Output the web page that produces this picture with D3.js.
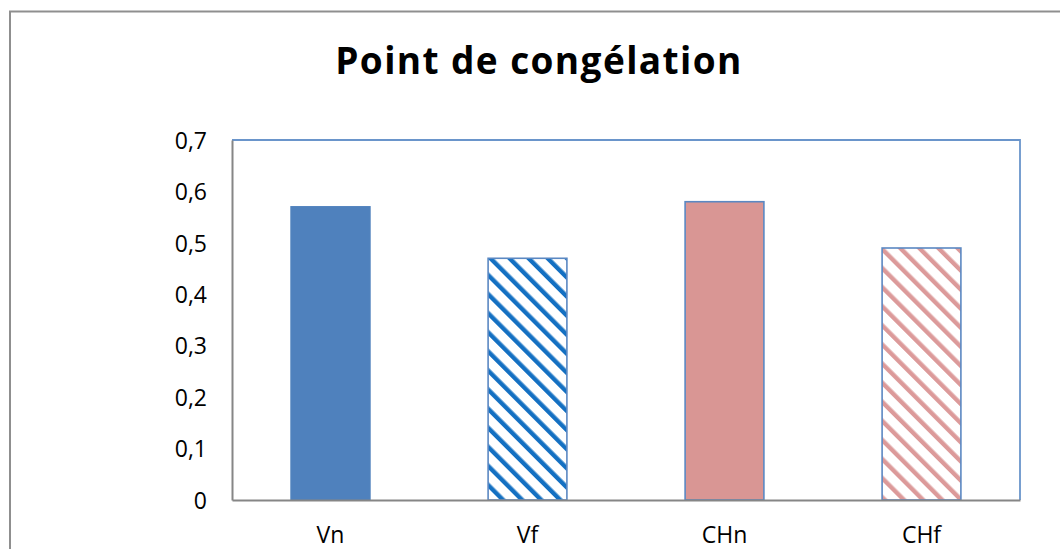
<!DOCTYPE html>
<html>
<head>
<meta charset="utf-8">
<script src="https://cdn.jsdelivr.net/npm/d3@7/dist/d3.min.js"></script>
<style>
  html, body { margin: 0; padding: 0; background: #fff; }
  svg { display: block; }
  text { font-family: "Open Sans", "Liberation Sans", sans-serif; fill: #000; }
</style>
</head>
<body>
<svg id="chart" width="1060" height="549"></svg>
<script>
// Freezing point per sample
const categories = ["Vn", "Vf", "CHn", "CHf"];
const values = [0.57, 0.47, 0.58, 0.49];
const fills = ["solid-blue", "hatch-blue", "solid-pink", "hatch-pink"];
const yTicks = [0, 0.1, 0.2, 0.3, 0.4, 0.5, 0.6, 0.7];
const titleText = "Point de congélation";

const svg = d3.select("#chart");
const W = 1060, H = 549;
const plot = { left: 232, top: 140, right: 1020, bottom: 500 };

// Diagonal hatch patterns
const defs = svg.append("defs");
function hatch(id, color) {
  const p = defs.append("pattern")
    .attr("id", id)
    .attr("patternUnits", "userSpaceOnUse")
    .attr("width", 13.5).attr("height", 13.5)
    .attr("patternTransform", "rotate(-45)");
  p.append("rect").attr("width", 13.5).attr("height", 13.5).attr("fill", "#fff");
  p.append("rect").attr("x", 0).attr("y", 0).attr("width", 4.4).attr("height", 13.5).attr("fill", color);
}
hatch("hatch-blue", "#1470c2");
hatch("hatch-pink", "#dc9a9a");

const fillFor = {
  "solid-blue": "#4f81bd",
  "solid-pink": "#d99694",
  "hatch-blue": "url(#hatch-blue)",
  "hatch-pink": "url(#hatch-pink)"
};
const strokeFor = {
  "solid-blue": "#4f81bd",
  "solid-pink": "#5b88c2",
  "hatch-blue": "#5b88c2",
  "hatch-pink": "#5b88c2"
};

// Outer chart frame
svg.append("rect")
  .attr("x", 10).attr("y", 11.5)
  .attr("width", W).attr("height", H)
  .attr("fill", "#fff")
  .attr("stroke", "#8f8f8f").attr("stroke-width", 2);

const x = d3.scaleBand()
  .domain(categories)
  .range([plot.left, plot.right])
  .paddingInner(0.6)
  .paddingOuter(0.3);

const y = d3.scaleLinear()
  .domain([0, 0.7])
  .range([plot.bottom, plot.top]);

// Plot area: blue top/right edges
svg.append("path")
  .attr("d", `M${plot.left},${plot.top}H${plot.right}V${plot.bottom}`)
  .attr("fill", "none")
  .attr("stroke", "#6a95cb").attr("stroke-width", 1.8);

// Bars
svg.append("g").selectAll("rect")
  .data(categories.map((c, i) => ({ c, v: values[i], f: fills[i] })))
  .join("rect")
  .attr("x", d => x(d.c))
  .attr("y", d => y(d.v))
  .attr("width", x.bandwidth())
  .attr("height", d => y(0) - y(d.v))
  .attr("fill", d => fillFor[d.f])
  .attr("stroke", d => strokeFor[d.f])
  .attr("stroke-width", 1.6);

// Y axis
const yAxis = svg.append("g")
  .attr("transform", `translate(${plot.left},0)`)
  .call(d3.axisLeft(y)
    .tickValues(yTicks)
    .tickSize(0)
    .tickPadding(25)
    .tickFormat(d => d3.format(".1~f")(d).replace(".", ",")));
yAxis.select(".domain").attr("stroke", "#868686").attr("stroke-width", 2);
yAxis.selectAll("text")
  .attr("font-size", 23)
  .attr("font-family", "Open Sans")
  .attr("fill", "#000")
  .attr("dy", "0.36em");

// X axis
const xAxis = svg.append("g")
  .attr("transform", `translate(0,${plot.bottom})`)
  .call(d3.axisBottom(x).tickSize(0).tickPadding(27));
xAxis.select(".domain").attr("stroke", "#868686").attr("stroke-width", 2);
xAxis.selectAll("text")
  .attr("font-size", 23)
  .attr("font-family", "Open Sans")
  .attr("fill", "#000");

// Title
svg.append("text")
  .attr("x", 539)
  .attr("y", 74)
  .attr("text-anchor", "middle")
  .attr("font-size", 37)
  .attr("font-weight", "bold")
  .attr("letter-spacing", 1.4)
  .text(titleText);
</script>
</body>
</html>
